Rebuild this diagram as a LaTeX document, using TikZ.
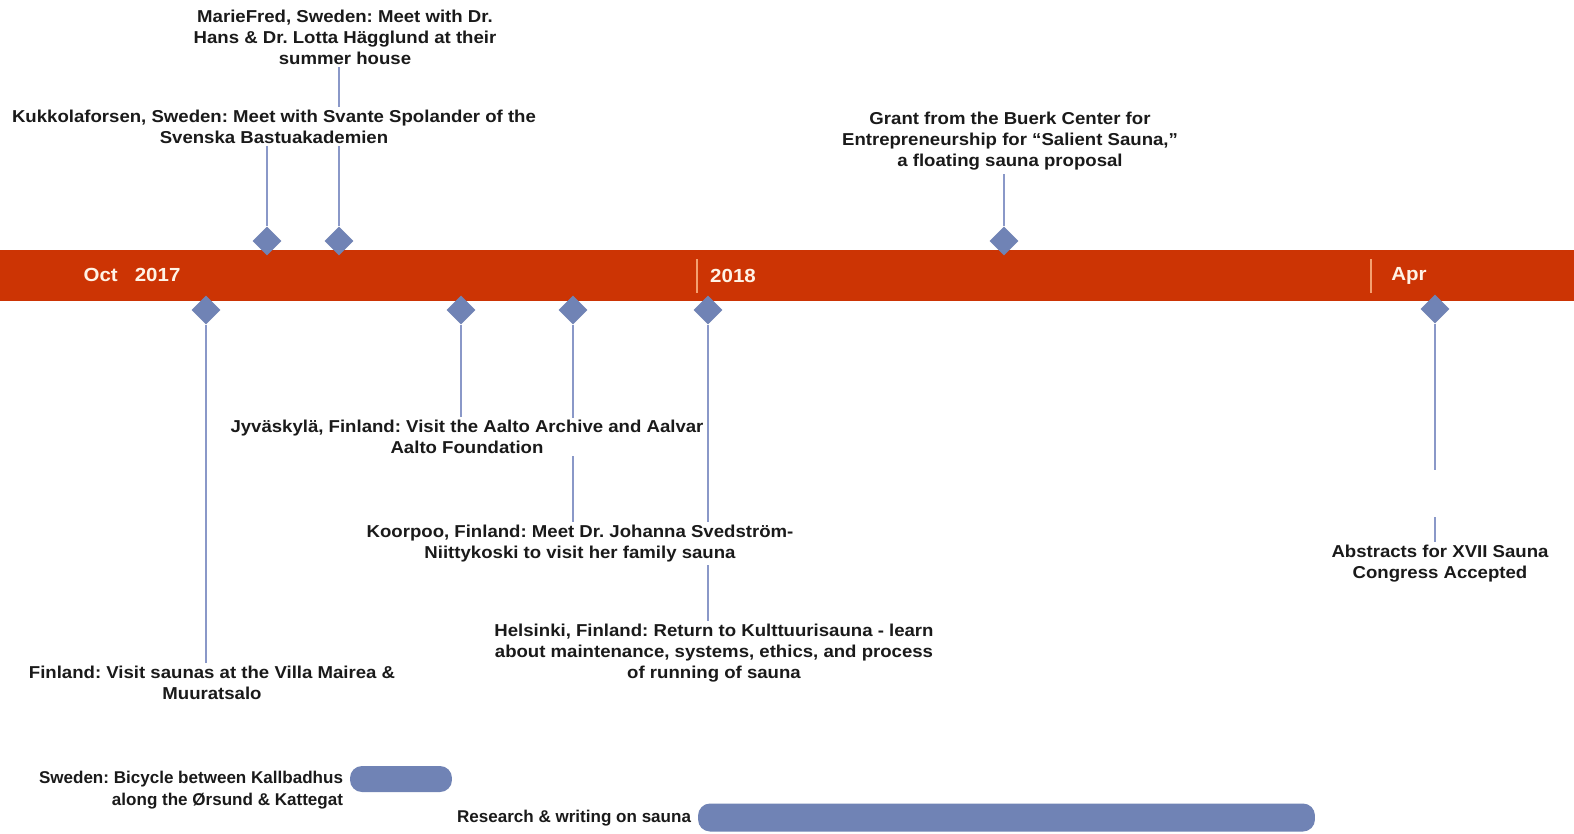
\documentclass[tikz,border=0pt]{standalone}
\usepackage{fontspec}
\newfontfamily\lblfont[FakeStretch=1.08]{Liberation Sans Bold}
\newfontfamily\botfont[FakeStretch=1.0]{Liberation Sans Bold}
\usetikzlibrary{shapes.geometric}
\pgfdeclarelayer{paper}
\pgfdeclarelayer{lines}
\pgfsetlayers{paper,lines,main}
\definecolor{barc}{RGB}{204,52,4}
\definecolor{dia}{RGB}{112,131,181}
\definecolor{linec}{RGB}{138,152,200}
\definecolor{tickc}{RGB}{244,160,112}
\definecolor{monc}{RGB}{255,243,230}
\definecolor{txt}{RGB}{26,26,26}
\frenchspacing
\begin{document}
\begin{tikzpicture}[x=0.02cm,y=-0.02cm,
  evt/.style={diamond,aspect=1,fill=dia,inner sep=0pt,minimum size=0.58cm},
  lbl/.style={font=\frenchspacing\lblfont\fontsize{9.8}{11.95}\selectfont,align=center,fill=white,inner sep=1.5pt,text=txt},
  bot/.style={font=\frenchspacing\botfont\fontsize{9.7}{12.2}\selectfont,text=txt,inner sep=1.5pt},
  mon/.style={font=\lblfont\fontsize{10.8}{12}\selectfont,text=monc,inner sep=0pt},
  conn/.style={draw=linec,line width=1.1pt},
  tickl/.style={draw=tickc,line width=1pt},
  pill/.style={fill=dia,rounded corners=0.24cm,inner sep=0pt}]
\useasboundingbox (0,0) rectangle (1574,833);
\begin{pgfonlayer}{paper}
\fill[white] (0,0) rectangle (1574,833);
\end{pgfonlayer}
% main bar
\fill[barc] (0,250) rectangle (1574,301);
\draw[tickl] (697,259) -- (697,293);
\draw[tickl] (1371,259) -- (1371,293);
\node[mon] (m1) at (132,275) {Oct\ \ \ 2017};
\node[mon] (m2) at (733,276) {2018};
\node[mon] (m3) at (1409,276) {Apr};
% diamonds
\node[evt] (d1) at (267,241) {};
\node[evt] (d2) at (339,241) {};
\node[evt] (d3) at (1004,241) {};
\node[evt] (d4) at (206,310) {};
\node[evt] (d5) at (461,310) {};
\node[evt] (d6) at (573,310) {};
\node[evt] (d7) at (708,310) {};
\node[evt] (d9) at (1435,309) {};
% labels
\node[lbl] (l2) at (345,37) {MarieFred, Sweden: Meet with Dr.\\Hans \& Dr. Lotta Hägglund at their\\summer house};
\node[lbl] (l1) at (274,126.5) {Kukkolaforsen, Sweden: Meet with Svante Spolander of the\\Svenska Bastuakademien};
\node[lbl] (l3) at (1010,141.5) {Grant from the Buerk Center for\\Entrepreneurship for “Salient Sauna,”\\a floating sauna proposal};
\node[lbl] (l4) at (212,682.5) {Finland: Visit saunas at the Villa Mairea \&\\Muuratsalo};
\node[lbl] (l5) at (467,437) {Jyväskylä, Finland: Visit the Aalto Archive and Aalvar\\Aalto Foundation};
\node[lbl] (l6) at (580,543.5) {Koorpoo, Finland: Meet Dr. Johanna Svedström-\\Niittykoski to visit her family sauna};
\node[lbl] (l7) at (714,653) {Helsinki, Finland: Return to Kulttuurisauna - learn\\about maintenance, systems, ethics, and process\\of running of sauna};
\node[lbl] (l9) at (1440,563.5) {Abstracts for XVII Sauna\\Congress Accepted};
% connectors
\begin{pgfonlayer}{lines}
\draw[conn] (d1.north) -- (d1.north |- l1.south);
\draw[conn] (d2.north) -- (d2.north |- l2.south);
\draw[conn] (d3.north) -- (d3.north |- l3.south);
\draw[conn] (d4.south) -- (d4.south |- l4.north);
\draw[conn] (d5.south) -- (d5.south |- l5.north);
\draw[conn] (d6.south) -- (d6.south |- l6.north);
\draw[conn] (d7.south) -- (d7.south |- l7.north);
\coordinate (g1) at (1435,470);
\coordinate (g2) at (1435,517);
\draw[conn] (d9.south) -- (g1);
\draw[conn] (g2) -- (g2 |- l9.north);
\end{pgfonlayer}
% bottom bars
\node[pill,minimum width=2.04cm,minimum height=0.52cm] (b1) at (401,779) {};
\node[bot,align=right,anchor=east] (t1) at (346,790) {Sweden: Bicycle between Kallbadhus\\along the Ørsund \& Kattegat};
\node[pill,minimum width=12.34cm,minimum height=0.56cm] (b2) at (1006.5,817.5) {};
\node[bot,anchor=east] (t2) at (694,818) {Research \& writing on sauna};
\end{tikzpicture}
\end{document}
